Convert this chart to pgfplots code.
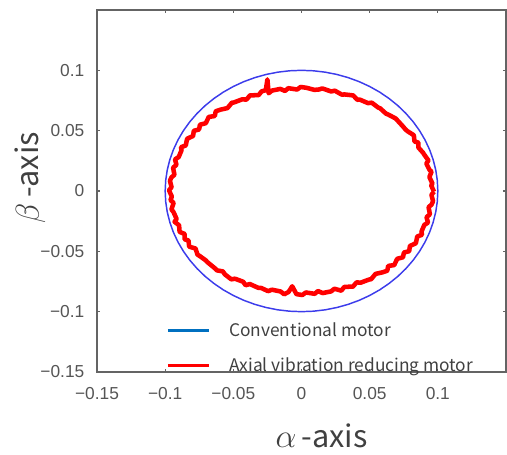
\documentclass[border=0pt]{standalone}
\usepackage{fontspec}
\setmainfont{Liberation Sans}
\newfontfamily\jp{Noto Sans CJK JP}
\usepackage{pgfplots}
\pgfplotsset{compat=1.18}
\definecolor{circblue}{RGB}{60,60,235}
\definecolor{legblue}{RGB}{0,112,192}
\definecolor{tickgray}{RGB}{85,85,85}
\definecolor{axgray}{RGB}{100,100,100}
\definecolor{txtgray}{RGB}{64,64,64}
\begin{document}
\begin{tikzpicture}
\begin{axis}[
  scale only axis,
  width=306.75pt, height=271.5pt,
  xmin=-0.15, xmax=0.15, ymin=-0.15, ymax=0.15,
  xtick={-0.15,-0.1,-0.05,0,0.05,0.1},
  xticklabels={−0.15,−0.1,−0.05,0,0.05,0.1},
  ytick={-0.15,-0.1,-0.05,0,0.05,0.1},
  yticklabels={−0.15,−0.1,−0.05,0,0.05,0.1},
  tick align=inside,
  major tick length=2.5pt,
  tick style={axgray, line width=0.8pt},
  axis line style={axgray, line width=1.1pt},
  ticklabel style={font=\fontsize{13}{15}\selectfont, text=tickgray},
  yticklabel style={xshift=-6pt},
  xticklabel style={yshift=-8pt},
  xlabel={$\alpha$\,{\jp -axis}},
  ylabel={$\beta$\,{\jp -axis}},
  label style={font=\fontsize{23}{27}\selectfont, text=txtgray},
  xlabel style={at={([xshift=15pt,yshift=-48pt]axis description cs:0.5,0)}, anchor=center},
  ylabel style={at={([xshift=-50pt,yshift=10pt]axis description cs:0,0.5)}, anchor=center},
  legend style={at={([yshift=-3pt]axis description cs:0.169,0)}, anchor=south west, draw=none, fill=none,
    inner sep=0pt, row sep=10pt, font=\jp\fontsize{13}{15}\selectfont, text=txtgray,
    nodes={inner sep=2pt}},
  legend cell align=left,
  legend image code/.code={\draw[#1, line width=2.25pt] (0pt,0pt) -- (31pt,0pt); \path[draw=none] (0pt,0pt) -- (44pt,0pt);},
  clip=false,
]
\addlegendimage{legblue}
\addlegendentry{Conventional motor}
\addlegendimage{red}
\addlegendentry{Axial vibration reducing motor}

% conventional motor (blue circle)
\addplot[circblue, line width=1.1pt, forget plot] table {
0.1 0
0.09962 0.00872
0.09848 0.01736
0.09659 0.02588
0.09397 0.03420
0.09063 0.04226
0.08660 0.05
0.08192 0.05736
0.07660 0.06428
0.07071 0.07071
0.06428 0.07660
0.05736 0.08192
0.05 0.08660
0.04226 0.09063
0.03420 0.09397
0.02588 0.09659
0.01736 0.09848
0.00872 0.09962
0 0.1
-0.00872 0.09962
-0.01736 0.09848
-0.02588 0.09659
-0.03420 0.09397
-0.04226 0.09063
-0.05 0.08660
-0.05736 0.08192
-0.06428 0.07660
-0.07071 0.07071
-0.07660 0.06428
-0.08192 0.05736
-0.08660 0.05
-0.09063 0.04226
-0.09397 0.03420
-0.09659 0.02588
-0.09848 0.01736
-0.09962 0.00872
-0.1 0
-0.09962 -0.00872
-0.09848 -0.01736
-0.09659 -0.02588
-0.09397 -0.03420
-0.09063 -0.04226
-0.08660 -0.05
-0.08192 -0.05736
-0.07660 -0.06428
-0.07071 -0.07071
-0.06428 -0.07660
-0.05736 -0.08192
-0.05 -0.08660
-0.04226 -0.09063
-0.03420 -0.09397
-0.02588 -0.09659
-0.01736 -0.09848
-0.00872 -0.09962
0 -0.1
0.00872 -0.09962
0.01736 -0.09848
0.02588 -0.09659
0.03420 -0.09397
0.04226 -0.09063
0.05 -0.08660
0.05736 -0.08192
0.06428 -0.07660
0.07071 -0.07071
0.07660 -0.06428
0.08192 -0.05736
0.08660 -0.05
0.09063 -0.04226
0.09397 -0.03420
0.09659 -0.02588
0.09848 -0.01736
0.09962 -0.00872
0.1 0
};

% axial vibration reducing motor (red, noisy)
\addplot[red, line width=3.4pt, line join=round, forget plot] table {
0.0972 -0.0006
0.0951 0.0047
0.0961 0.0061
0.0938 0.0115
0.0954 0.0160
0.0939 0.0175
0.0916 0.0227
0.0931 0.0253
0.0898 0.0305
0.0894 0.0314
0.0857 0.0361
0.0858 0.0401
0.0829 0.0410
0.0824 0.0462
0.0777 0.0496
0.0763 0.0510
0.0745 0.0534
0.0702 0.0587
0.0692 0.0600
0.0637 0.0633
0.0620 0.0641
0.0577 0.0685
0.0562 0.0692
0.0515 0.0732
0.0488 0.0728
0.0428 0.0757
0.0410 0.0756
0.0379 0.0792
0.0318 0.0800
0.0295 0.0799
0.0245 0.0831
0.0217 0.0825
0.0153 0.0850
0.0127 0.0841
0.0095 0.0838
0.0037 0.0855
-0.0006 0.0862
-0.0032 0.0841
-0.0097 0.0852
-0.0121 0.0829
-0.0155 0.0846
-0.0217 0.0832
-0.0241 0.0810
-0.0250 0.0925
-0.0262 0.0835
-0.0292 0.0826
-0.0314 0.0795
-0.0378 0.0792
-0.0404 0.0757
-0.0434 0.0760
-0.0495 0.0734
-0.0511 0.0731
-0.0543 0.0687
-0.0591 0.0675
-0.0629 0.0661
-0.0636 0.0621
-0.0680 0.0614
-0.0702 0.0562
-0.0745 0.0549
-0.0751 0.0510
-0.0790 0.0499
-0.0795 0.0456
-0.0839 0.0433
-0.0849 0.0377
-0.0884 0.0363
-0.0880 0.0337
-0.0901 0.0281
-0.0928 0.0262
-0.0917 0.0217
-0.0942 0.0193
-0.0932 0.0134
-0.0954 0.0113
-0.0965 0.0085
-0.0953 0.0032
-0.0972 0.0006
-0.0951 -0.0046
-0.0961 -0.0076
-0.0938 -0.0098
-0.0954 -0.0153
-0.0939 -0.0174
-0.0916 -0.0232
-0.0931 -0.0255
-0.0898 -0.0284
-0.0894 -0.0339
-0.0857 -0.0356
-0.0858 -0.0400
-0.0829 -0.0410
-0.0824 -0.0461
-0.0777 -0.0477
-0.0763 -0.0527
-0.0745 -0.0540
-0.0702 -0.0575
-0.0692 -0.0588
-0.0637 -0.0639
-0.0620 -0.0658
-0.0577 -0.0666
-0.0562 -0.0691
-0.0515 -0.0732
-0.0488 -0.0727
-0.0428 -0.0752
-0.0410 -0.0781
-0.0379 -0.0771
-0.0318 -0.0802
-0.0295 -0.0804
-0.0245 -0.0830
-0.0217 -0.0818
-0.0153 -0.0833
-0.0127 -0.0856
-0.0095 -0.0837
-0.0068 -0.0790
-0.0037 -0.0855
0.0006 -0.0862
0.0032 -0.0841
0.0097 -0.0852
0.0121 -0.0829
0.0155 -0.0846
0.0217 -0.0832
0.0241 -0.0810
0.0292 -0.0826
0.0314 -0.0795
0.0378 -0.0792
0.0404 -0.0757
0.0434 -0.0760
0.0495 -0.0734
0.0511 -0.0731
0.0543 -0.0687
0.0591 -0.0675
0.0629 -0.0661
0.0636 -0.0621
0.0680 -0.0614
0.0702 -0.0562
0.0745 -0.0549
0.0751 -0.0510
0.0790 -0.0499
0.0795 -0.0456
0.0839 -0.0433
0.0849 -0.0377
0.0884 -0.0363
0.0880 -0.0337
0.0901 -0.0281
0.0928 -0.0262
0.0917 -0.0217
0.0942 -0.0193
0.0932 -0.0134
0.0954 -0.0113
0.0965 -0.0085
0.0953 -0.0032
0.0972 -0.0006
};
\coordinate (bbsw) at (rel axis cs:0,0);
\coordinate (bbne) at (rel axis cs:1,1);
\end{axis}
\pgfresetboundingbox
\path[use as bounding box] ([shift={(-72.75pt,-62.25pt)}]bbsw) rectangle ([shift={(0.75pt,7.5pt)}]bbne);
\end{tikzpicture}
\end{document}
